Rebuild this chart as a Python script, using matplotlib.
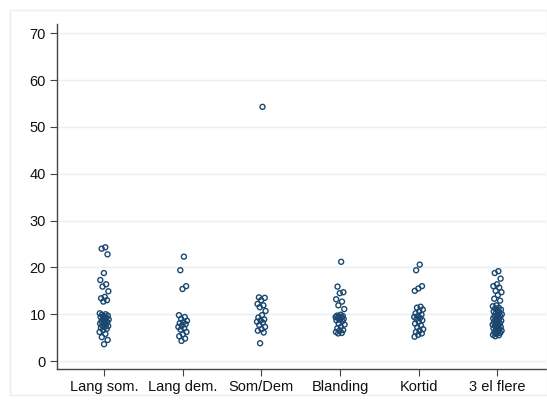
import matplotlib
matplotlib.use("Agg")
import matplotlib.pyplot as plt
from matplotlib.patches import Rectangle
import numpy as np

categories = ["Lang som.", "Lang dem.", "Som/Dem", "Blanding", "Kortid", "3 el flere"]

lang_som = [24.3, 24.0, 22.8, 18.8, 17.3, 16.4, 15.9, 14.9, 13.7, 13.4, 13.0, 12.7,
            10.2, 10.0, 9.9, 9.7, 9.5, 9.4, 9.2, 9.0, 8.9, 8.7, 8.5, 8.3, 8.2, 8.0,
            7.8, 7.6, 7.5, 7.3, 7.1, 6.9, 6.6, 6.2, 5.8, 5.1, 4.5, 3.6]
lang_dem = [22.3, 19.4, 16.0, 15.4, 9.8, 9.4, 9.0, 8.6, 8.3, 8.1, 7.9, 7.6, 7.3,
            7.0, 6.7, 6.2, 5.7, 5.3, 4.8, 4.3]
som_dem = [54.3, 13.6, 13.5, 13.0, 12.2, 11.9, 11.5, 10.7, 9.8, 9.3, 8.9, 8.7,
           8.4, 8.2, 7.7, 7.3, 6.8, 6.5, 6.1, 3.8]
blanding = [21.2, 15.9, 14.7, 14.5, 13.2, 12.7, 11.9, 11.1, 9.9, 9.7, 9.6, 9.5,
            9.4, 9.3, 9.2, 9.0, 8.9, 8.7, 8.5, 8.0, 7.8, 7.3, 7.0, 6.6, 6.5, 6.2,
            6.0, 5.9]
kortid = [20.6, 19.4, 16.0, 15.5, 15.0, 11.6, 11.4, 11.0, 10.6, 10.2, 9.9, 9.6,
          9.4, 9.2, 9.0, 8.7, 8.4, 8.0, 7.6, 7.2, 6.8, 6.5, 6.2, 5.9, 5.6, 5.2]
tre_el_flere = [19.2, 18.8, 17.6, 16.4, 16.0, 15.7, 15.0, 14.7, 14.1, 13.3, 12.9,
                11.9, 11.7, 11.4, 11.2, 11.0, 10.8, 10.6, 10.4, 10.2, 10.0, 9.8,
                9.6, 9.5, 9.3, 9.1, 9.0, 8.8, 8.6, 8.5, 8.3, 8.1, 8.0, 7.8, 7.6,
                7.5, 7.3, 7.1, 7.0, 6.8, 6.6, 6.5, 6.3, 6.1, 6.0, 5.8, 5.6, 5.5, 5.3]

series = [lang_som, lang_dem, som_dem, blanding, kortid, tre_el_flere]
yticks = [0, 10, 20, 30, 40, 50, 60, 70]

plt.rcParams['font.family'] = ['Liberation Sans', 'DejaVu Sans']

W, H = 547, 403
fig = plt.figure(figsize=(W / 100, H / 100), dpi=100)
fig.patch.set_facecolor("white")

# outer light frame (graph region)
fig.patches.append(Rectangle((10 / W, 8 / H), (W - 10) / W, (H - 18) / H,
                             transform=fig.transFigure, fill=False,
                             edgecolor="#ececec", linewidth=1.0))

ax = fig.add_axes([57 / W, (H - 369) / H, (546 - 57) / W, (369 - 24) / H])
ax.set_facecolor("white")

navy = "#1a476f"
for i, vals in enumerate(series):
    vals = np.asarray(vals)
    n = len(vals)
    # deterministic jitter (golden-ratio sequence)
    jit = (((np.arange(n) + 1) * 0.61803398875) % 1.0 - 0.5) * 0.12
    ax.scatter(np.full(n, i + 1) + jit, vals, s=13, facecolors="none",
               edgecolors=navy, linewidths=1.0, zorder=3)

ax.set_xlim(0.4, 6.62)
ax.set_ylim(-1.7, 72)
ax.set_yticks(yticks)
ax.set_yticklabels([str(t) for t in yticks])
ax.set_xticks(range(1, len(categories) + 1))
ax.set_xticklabels(categories)

for t in yticks:
    ax.axhline(t, color="#e6eff1", linewidth=1.0, zorder=1)

for s in ["top", "right"]:
    ax.spines[s].set_visible(False)
for s in ["left", "bottom"]:
    ax.spines[s].set_color("#444444")
    ax.spines[s].set_linewidth(1.0)

ax.tick_params(axis="both", direction="out", length=5, width=0.8,
               color="#444444", labelsize=10.5, labelcolor="#111111", pad=3)
ax.tick_params(axis="x", pad=3)

fig.savefig("out.png", dpi=100, facecolor="white")
